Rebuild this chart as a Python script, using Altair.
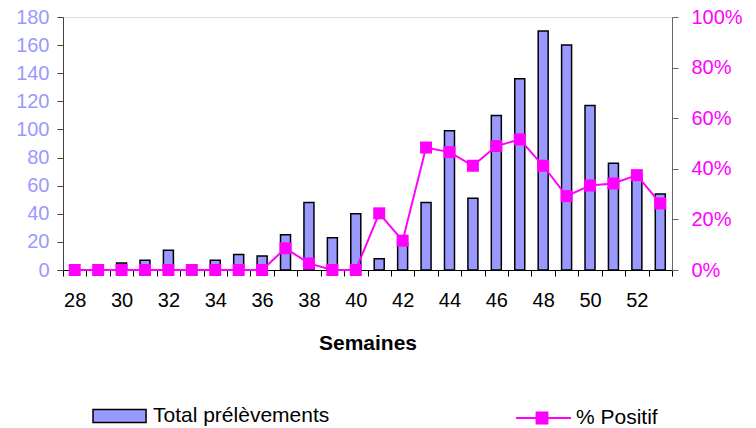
import altair as alt
import pandas as pd

weeks = list(range(28, 54))
total = [0, 0, 5, 7, 14, 0, 7, 11, 10, 25, 48, 23, 40, 8, 19, 48, 99, 51, 110, 136, 170, 160, 117, 76, 68, 54]
pct_pos = [0, 0, 0, 0, 0, 0, 0, 0, 0, 8.6, 2.6, 0, 0, 22.4, 11.6, 48.4, 46.6, 41.2, 49.0, 51.6, 41.2, 29.2, 33.4, 34.2, 37.5, 26.3]
series_names = ["Total prélèvements", "% Positif"]

df = pd.DataFrame({"week": weeks, "total": total, "pct": [p / 100 for p in pct_pos]})
df["s_bar"] = series_names[0]
df["s_line"] = series_names[1]

FONT = "Liberation Sans"
BAR_COL = "#9999FF"
MAG = "#FF00FF"

x = alt.X(
    "week:O",
    scale=alt.Scale(paddingInner=0, paddingOuter=0),
    axis=alt.Axis(
        title="Semaines",
        titleFont=FONT,
        titleFontSize=21,
        titleFontWeight="bold",
        titleColor="black",
        titlePadding=22,
        labelAngle=0,
        labelFont=FONT,
        labelFontSize=20,
        labelColor="black",
        labelPadding=14,
        labelExpr="datum.value % 2 == 0 ? datum.label : ''",
        tickBand="extent",
        tickSize=6,
        tickColor="black",
        domainColor="black",
        grid=False,
    ),
)

bars = alt.Chart(df).mark_bar(size=10, stroke="black", strokeWidth=1.5).encode(
    x=x,
    y=alt.Y(
        "total:Q",
        scale=alt.Scale(domain=[0, 180], nice=False),
        axis=alt.Axis(
            title=None,
            values=list(range(0, 181, 20)),
            labelFont=FONT,
            labelFontSize=20,
            labelColor=BAR_COL,
            labelPadding=8,
            tickSize=6,
            tickColor="#444",
            domainColor="#444",
            grid=False,
        ),
    ),
    fill=alt.Fill(
        "s_bar:N",
        scale=alt.Scale(range=[BAR_COL]),
        legend=alt.Legend(
            title=None,
            orient="none",
            legendX=29,
            legendY=385,
            padding=0,
            symbolType="M-1,-0.5H3.08V0.5H-1Z",
            symbolSize=676,
            symbolStrokeColor="black",
            symbolStrokeWidth=1.5,
            labelOffset=33,
            labelLimit=400,
            labelFont=FONT,
            labelFontSize=21,
            labelColor="black",
        ),
    ),
)

right_axis = alt.Axis(
    title=None,
    orient="right",
    values=[0, 0.2, 0.4, 0.6, 0.8, 1.0],
    format=".0%",
    labelFont=FONT,
    labelFontSize=20,
    labelColor=MAG,
    labelPadding=13,
    tickSize=6,
    tickColor="#666",
    domainColor="#666",
    grid=False,
)
y2 = alt.Y("pct:Q", scale=alt.Scale(domain=[0, 1], nice=False), axis=right_axis)

line = alt.Chart(df).mark_line(strokeWidth=2).encode(
    x=x,
    y=y2,
    stroke=alt.Stroke(
        "s_line:N",
        scale=alt.Scale(range=[MAG]),
        legend=alt.Legend(
            title=None,
            orient="none",
            legendX=466,
            legendY=388,
            padding=0,
            symbolType="M-2.17,0H2.42M-0.45,-0.45H0.45V0.45H-0.45Z",
            symbolSize=576,
            symbolFillColor=MAG,
            symbolStrokeColor=MAG,
            symbolStrokeWidth=2,
            labelOffset=21,
            labelLimit=400,
            labelFont=FONT,
            labelFontSize=21,
            labelColor="black",
        ),
    ),
)

points = alt.Chart(df).mark_square(size=144, color=MAG, opacity=1, filled=True).encode(
    x=x,
    y=y2,
)

right = alt.layer(line, points)

chart = (
    alt.layer(bars, right)
    .resolve_scale(y="independent", fill="independent", stroke="independent")
    .properties(
        width=609,
        height=253,
        autosize=alt.AutoSizeParams(type="none"),
        padding={"left": 55, "top": 9, "right": 76, "bottom": 158},
    )
    .configure_view(strokeOpacity=0, strokeWidth=0)
    .configure(background="white")
)

chart.save("out.html", embed_options={"renderer": "svg", "actions": False})
